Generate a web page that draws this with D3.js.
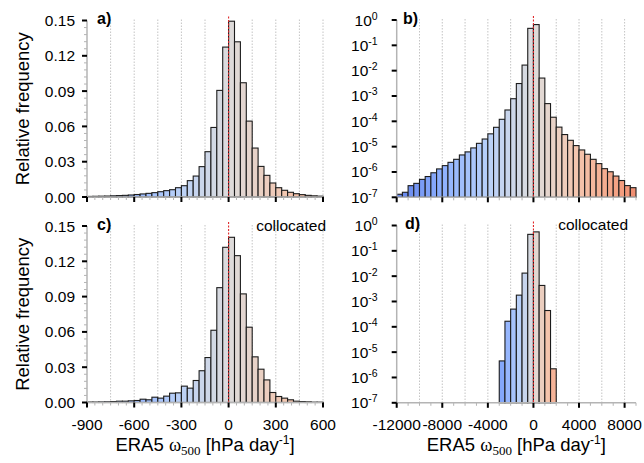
<!DOCTYPE html>
<html><head><meta charset="utf-8">
<script src="https://cdn.jsdelivr.net/npm/d3@7"></script>
<style>
body{margin:0;background:#fff}
svg{display:block}
text{font-family:"Liberation Sans",Arial,Helvetica,sans-serif;fill:#000}
</style>
</head><body>
<svg id="chart" width="644" height="463"></svg>
<script>
// ---------------- data ----------------
const linBinStart = -900;
const linBinWidth = 37.5;
// panel a: all data, relative frequency per 37.5 hPa/day bin from -900 to 600
const freqA = [0.0005, 0.0006, 0.0007, 0.0008, 0.0010, 0.0012, 0.0014, 0.0017,
  0.0021, 0.0026, 0.0031, 0.0037, 0.0045, 0.0054, 0.0062, 0.0079,
  0.0096, 0.0139, 0.0178, 0.0258, 0.0385, 0.0591, 0.0906, 0.1274,
  0.1494, 0.1319, 0.0971, 0.0645, 0.0416, 0.0260, 0.0184, 0.0119,
  0.0079, 0.0057, 0.0040, 0.0028, 0.0020, 0.0014, 0.0010, 0.0007];
// panel c: collocated
const freqC = [0.0004, 0.0004, 0.0005, 0.0006, 0.0008, 0.0011, 0.0011, 0.0014,
  0.0017, 0.0028, 0.0023, 0.0045, 0.0037, 0.0054, 0.0079, 0.0082,
  0.0139, 0.0122, 0.0187, 0.0270, 0.0382, 0.0614, 0.0976, 0.1319,
  0.1404, 0.1248, 0.0923, 0.0640, 0.0388, 0.0283, 0.0192, 0.0085,
  0.0051, 0.0037, 0.0023, 0.0011, 0.0008, 0.0006, 0.0003, 0.0003];

const logBinWidth = 500;
const logBinStartB = -12000;
// panel b: all data, 500 hPa/day bins from -12000 to 9000
const freqB = [1.32e-7, 1.58e-7, 2.88e-7, 3.55e-7, 5.1e-7, 6.6e-7, 9.3e-7, 1.32e-6,
  1.78e-6, 2.4e-6, 3.16e-6, 4.7e-6, 6.2e-6, 8.9e-6, 1.35e-5, 2.0e-5,
  3.2e-5, 5.8e-5, 1.2e-4, 2.8e-4, 7.8e-4, 3.1e-3, 1.66e-2, 0.468,
  0.66, 5.1e-3, 5.0e-4, 1.45e-4, 5.9e-5, 3.0e-5, 1.78e-5, 1.1e-5,
  7.4e-6, 5.0e-6, 3.16e-6, 2.14e-6, 1.35e-6, 1.02e-6, 6.9e-7, 4.6e-7,
  2.9e-7, 2.4e-7];
const logBinStartD = -3000;
// panel d: collocated
const freqD = [4.5e-6, 1.66e-4, 5.0e-4, 1.78e-3, 1.32e-2, 0.447, 0.56, 4.3e-3, 4.4e-4, 2.2e-6];

const linXTicks = [-900, -600, -300, 0, 300, 600];
const linYTicks = [0, 0.03, 0.06, 0.09, 0.12, 0.15];
const logXTicks = [-12000, -8000, -4000, 0, 4000, 8000];
const logYExponents = [0, -1, -2, -3, -4, -5, -6, -7];
const panelLetters = ["a)", "b)", "c)", "d)"];
const collocatedLabel = "collocated";
const yTitle = "Relative frequency";

// coolwarm colormap samples
const coolwarm = ["#3b4cc0", "#6282ea", "#8db0fe", "#b8d0f9", "#dddcdc",
  "#f5c4ac", "#f49a7b", "#de604d", "#b40426"];
const cw = d3.piecewise(d3.interpolateRgb, coolwarm);

const svg = d3.select("#chart");

function drawPanel(opt) {
  const g = svg.append("g");
  const x = d3.scaleLinear().domain(opt.xDomain).range([opt.x0, opt.x1]);
  const y = opt.log
    ? d3.scaleLog().domain([1e-7, 1]).range([opt.yBot, opt.yTop])
    : d3.scaleLinear().domain([0, 0.15]).range([opt.yBot, opt.yTop]);
  const yb = opt.yBot;

  // grid lines
  g.append("g").selectAll("line").data(opt.grid).join("line")
    .attr("x1", d => x(d)).attr("x2", d => x(d))
    .attr("y1", opt.yTop - 1).attr("y2", yb)
    .attr("stroke", "#c4c4c4").attr("stroke-width", 1)
    .attr("stroke-dasharray", "1.5,1.5");

  // bars
  const bars = opt.freq.map((v, i) => ({s: opt.start + i * opt.w, v}));
  const colorT = c => {
    const cl = c < 0 ? opt.clNeg : opt.clPos;
    return Math.max(0, Math.min(1, 0.5 + c / (2 * cl)));
  };
  g.append("g").selectAll("rect").data(bars.filter(d => d.v > 0)).join("rect")
    .attr("x", d => x(d.s))
    .attr("width", d => x(d.s + opt.w) - x(d.s))
    .attr("y", d => y(d.v))
    .attr("height", d => yb - y(d.v))
    .attr("fill", d => cw(colorT(d.s + opt.w / 2)))
    .attr("stroke", "#1c1c1c").attr("stroke-width", 1.1);

  // red zero line
  g.append("line").attr("x1", x(0)).attr("x2", x(0))
    .attr("y1", opt.yTop - 4).attr("y2", yb)
    .attr("stroke", "#e0282a").attr("stroke-width", 1.1)
    .attr("stroke-dasharray", "2,1.5");

  // axes lines
  g.append("line").attr("x1", opt.x0).attr("x2", opt.x0).attr("y1", opt.yTop).attr("y2", yb)
    .attr("stroke", "#b4b4b4").attr("stroke-width", 1.5);
  g.append("line").attr("x1", opt.x0).attr("x2", opt.x1).attr("y1", yb).attr("y2", yb)
    .attr("stroke", "#b4b4b4").attr("stroke-width", 1.5);

  // x minor ticks
  g.append("g").selectAll("line").data(opt.xMinor).join("line")
    .attr("x1", d => x(d)).attr("x2", d => x(d)).attr("y1", yb).attr("y2", yb + 3)
    .attr("stroke", "#b4b4b4").attr("stroke-width", 1);
  // x major ticks
  g.append("g").selectAll("line").data(opt.xTicks).join("line")
    .attr("x1", d => x(d)).attr("x2", d => x(d)).attr("y1", yb).attr("y2", yb + 5)
    .attr("stroke", "#000").attr("stroke-width", 2);

  // y minor ticks
  if (opt.yMinor) {
    g.append("g").selectAll("line").data(opt.yMinor).join("line")
      .attr("x1", opt.x0 - 3).attr("x2", opt.x0).attr("y1", d => y(d)).attr("y2", d => y(d))
      .attr("stroke", "#b4b4b4").attr("stroke-width", 1);
  }
  // y major ticks
  const yt = opt.log ? logYExponents.map(e => Math.pow(10, e)) : linYTicks;
  g.append("g").selectAll("line").data(yt).join("line")
    .attr("x1", opt.x0 - 5).attr("x2", opt.x0).attr("y1", d => y(d)).attr("y2", d => y(d))
    .attr("stroke", "#000").attr("stroke-width", 2);

  // y tick labels
  if (opt.log) {
    const lab = g.append("g").selectAll("text").data(logYExponents).join("text")
      .attr("x", opt.x0 - 19).attr("y", d => y(Math.pow(10, d)) + 5.5)
      .attr("text-anchor", "end").style("font-size", "15.5px");
    lab.append("tspan").text("10");
    lab.append("tspan").attr("dy", -6).style("font-size", "10.5px").text(d => d === 0 ? "0" : "-" + Math.abs(d));
  } else {
    g.append("g").selectAll("text").data(linYTicks).join("text")
      .attr("x", opt.x0 - 12).attr("y", d => y(d) + 5.5)
      .attr("text-anchor", "end").style("font-size", "15.5px")
      .text(d => d3.format(".2f")(d));
  }

  // x tick labels
  if (opt.showX) {
    g.append("g").selectAll("text").data(opt.xTicks).join("text")
      .attr("x", d => x(d)).attr("y", yb + 27)
      .attr("text-anchor", "middle").style("font-size", "15.5px")
      .text(d => String(d));
    const t = g.append("text").attr("x", (opt.x0 + opt.x1) / 2).attr("y", yb + 48)
      .attr("text-anchor", "middle").style("font-size", "18.5px");
    t.append("tspan").text("ERA5 ");
    t.append("tspan").style("font-family", "'Liberation Serif',serif").text("\u03c9");
    t.append("tspan").attr("dy", 4).style("font-family", "'Liberation Serif',serif").style("font-size", "13px").text("500");
    t.append("tspan").attr("dy", -4).text(" [hPa day");
    t.append("tspan").attr("dy", -7).style("font-size", "12px").text("-1");
    t.append("tspan").attr("dy", 7).text("]");
  }

  // y title
  if (opt.showYTitle) {
    g.append("text").attr("transform", `translate(${opt.x0 - 58},${(opt.yTop + yb) / 2}) rotate(-90)`)
      .attr("text-anchor", "middle").style("font-size", "18.5px").text(yTitle);
  }

  // panel letter
  g.append("text").attr("x", opt.letterX).attr("y", opt.yTop + 3.5)
    .style("font-size", "16px").style("font-weight", "bold").text(opt.letter);
  if (opt.colloc) {
    g.append("text").attr("x", opt.collocX).attr("y", opt.yTop + 4.5)
      .attr("text-anchor", "end").style("font-size", "15.5px").text(collocatedLabel);
  }
}

const rowOff = 205.5;
const linGrid = d3.range(-750, 601, 150).filter(d => d !== 0);
const linMinor = d3.range(-900, 601, 50).filter(d => d % 300 !== 0);
const logGrid = d3.range(-10000, 8001, 2000).filter(d => d !== 0);
const logMinor = d3.range(-12000, 9001, 1000).filter(d => d % 4000 !== 0);
const linYMinor = d3.range(0, 0.1501, 0.006).filter((d, i) => i % 5 !== 0);

drawPanel({x0: 87, x1: 323, yTop: 20.5, yBot: 197, xDomain: [-900, 600], log: false,
  freq: freqA, start: linBinStart, w: linBinWidth, clNeg: 1300, clPos: 1600,
  grid: linGrid, xTicks: linXTicks, xMinor: linMinor, yMinor: linYMinor,
  showX: false, showYTitle: true, letter: panelLetters[0], letterX: 97});
drawPanel({x0: 396.7, x1: 636, yTop: 20, yBot: 197.3, xDomain: [-12000, 9000], log: true,
  freq: freqB, start: logBinStartB, w: logBinWidth, clNeg: 16000, clPos: 16000,
  grid: logGrid, xTicks: logXTicks, xMinor: logMinor,
  showX: false, showYTitle: false, letter: panelLetters[1], letterX: 403});
drawPanel({x0: 87, x1: 323, yTop: 20.5 + rowOff, yBot: 197 + rowOff, xDomain: [-900, 600], log: false,
  freq: freqC, start: linBinStart, w: linBinWidth, clNeg: 1300, clPos: 1600,
  grid: linGrid, xTicks: linXTicks, xMinor: linMinor, yMinor: linYMinor,
  showX: true, showYTitle: true, letter: panelLetters[2], letterX: 97, colloc: true, collocX: 326});
drawPanel({x0: 396.7, x1: 636, yTop: 20 + rowOff, yBot: 197.3 + rowOff, xDomain: [-12000, 9000], log: true,
  freq: freqD, start: logBinStartD, w: logBinWidth, clNeg: 5000, clPos: 5000,
  grid: logGrid, xTicks: logXTicks, xMinor: logMinor,
  showX: true, showYTitle: false, letter: panelLetters[3], letterX: 405, colloc: true, collocX: 628});
</script>
</body></html>
